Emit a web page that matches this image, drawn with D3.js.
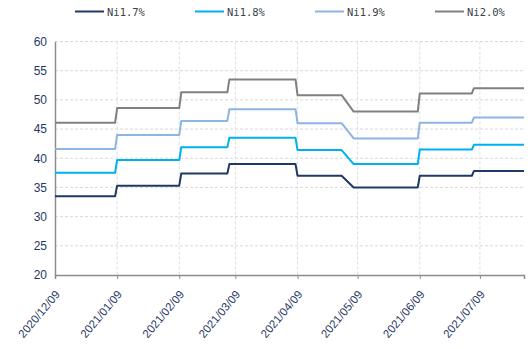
<!DOCTYPE html>
<html>
<head>
<meta charset="utf-8">
<script src="https://cdn.jsdelivr.net/npm/d3@7"></script>
<style>
  html, body { margin: 0; padding: 0; background: #fff; }
  svg { display: block; }
  .legend-text { font-family: "DejaVu Sans Mono", monospace; font-size: 10.5px; fill: #3a3f4a; }
</style>
</head>
<body>
<svg id="chart" width="528" height="349"></svg>
<script>
// ---- data ----
const dates = ["2020-12-09","2021-01-08","2021-01-09","2021-02-09","2021-02-10","2021-03-05","2021-03-06",
               "2021-04-08","2021-04-09","2021-05-01","2021-05-07","2021-06-08","2021-06-09","2021-07-05",
               "2021-07-06","2021-07-31"];
const ni17 = [33.5,33.5,35.3,35.3,37.4,37.4,39.0,39.0,37.0,37.0,35.0,35.0,37.0,37.0,37.8,37.8];
const ni18 = [37.5,37.5,39.7,39.7,41.9,41.9,43.5,43.5,41.4,41.4,39.0,39.0,41.5,41.5,42.3,42.3];
const ni19 = [41.6,41.6,44.0,44.0,46.4,46.4,48.4,48.4,46.0,46.0,43.4,43.4,46.1,46.1,47.0,47.0];
const ni20 = [46.1,46.1,48.6,48.6,51.3,51.3,53.5,53.5,50.8,50.8,48.0,48.0,51.1,51.1,52.0,52.0];
const seriesNames = ["Ni1.7%","Ni1.8%","Ni1.9%","Ni2.0%"];
const seriesColors = ["#1F3864","#00B0F0","#8DB4E2","#808080"];
const xTickLabels = ["2020/12/09","2021/01/09","2021/02/09","2021/03/09","2021/04/09","2021/05/09","2021/06/09","2021/07/09"];
const yTicks = [20,25,30,35,40,45,50,55,60];
const xDomain = ["2020-12-09","2021-07-31"];

(function () {
const svg = d3.select("#chart");
const parse = d3.timeParse("%Y-%m-%d");
const parseTick = d3.timeParse("%Y/%m/%d");
const pL = 55, pR = 524, pT = 41.5, pB = 275;
const labelFont = '"Liberation Sans Narrow", "Arial Narrow", "Liberation Sans", sans-serif';

const x = d3.scaleTime().domain(xDomain.map(parse)).range([pL, pR]);
const y = d3.scaleLinear().domain([20, 60]).range([pB, pT]);

// gridlines
const grid = svg.append("g");
grid.selectAll("line.h").data(yTicks.filter(v => v > 20)).enter().append("line")
  .attr("x1", pL).attr("x2", pR)
  .attr("y1", d => y(d)).attr("y2", d => y(d))
  .attr("stroke", "#d9d9d9").attr("stroke-width", 1).attr("stroke-dasharray", "3,2");
const tickDates = xTickLabels.map(parseTick);
grid.selectAll("line.v").data(tickDates.slice(1)).enter().append("line")
  .attr("x1", d => x(d)).attr("x2", d => x(d))
  .attr("y1", pT).attr("y2", pB)
  .attr("stroke", "#dedede").attr("stroke-width", 1).attr("stroke-dasharray", "3,2");

// axes
const yAxis = d3.axisLeft(y).tickValues(yTicks).tickSize(0).tickPadding(8);
const gy = svg.append("g").attr("transform", `translate(${pL},0)`).call(yAxis);
gy.select(".domain").attr("stroke", "#8c8c8c").attr("stroke-width", 1.5);
gy.selectAll("text").attr("font-size", "12px")
  .style("font-family", labelFont).attr("fill", "#1F3864");

const xAxis = d3.axisBottom(x).tickValues(tickDates).tickSize(4).tickFormat((d, i) => xTickLabels[i]);
const gx = svg.append("g").attr("transform", `translate(0,${pB})`).call(xAxis);
gx.select(".domain").attr("stroke", "#8c8c8c").attr("stroke-width", 1.5);
gx.selectAll(".tick line").attr("stroke", "#8c8c8c").attr("stroke-width", 1);
gx.selectAll("text")
  .attr("font-size", "11.5px")
  .style("font-family", labelFont)
  .attr("fill", "#1F3864")
  .attr("text-anchor", "end")
  .attr("dy", "0.35em")
  .attr("y", 0).attr("x", 0)
  .attr("transform", "translate(2,17) rotate(-50)");

// lines
const allSeries = [ni17, ni18, ni19, ni20];
const line = d3.line().x((d, i) => x(parse(dates[i]))).y(d => y(d));
allSeries.forEach((vals, k) => {
  svg.append("path").datum(vals)
    .attr("fill", "none")
    .attr("stroke", seriesColors[k])
    .attr("stroke-width", 2)
    .attr("stroke-linejoin", "round")
    .attr("d", line);
});

// legend
const legend = svg.append("g");
seriesNames.forEach((name, k) => {
  const lx = 75 + k * 120;
  legend.append("line").attr("x1", lx).attr("x2", lx + 29).attr("y1", 11.5).attr("y2", 11.5)
    .attr("stroke", seriesColors[k]).attr("stroke-width", 2);
  legend.append("text").attr("class", "legend-text").attr("x", lx + 32).attr("y", 15.5).text(name);
});
})();
</script>
</body>
</html>
